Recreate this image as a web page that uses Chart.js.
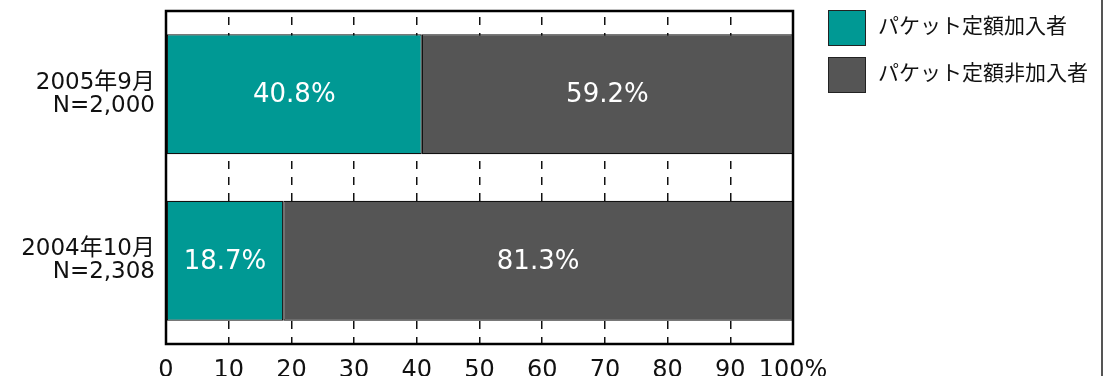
<!DOCTYPE html>
<html lang="ja">
<head>
<meta charset="utf-8">
<script src="https://cdn.jsdelivr.net/npm/chart.js@4.4.1/dist/chart.umd.min.js"></script>
<style>
    body { margin: 0; background: #fff; }
</style>
</head>
<body>
<canvas id="chart" width="1106" height="376"></canvas>
<script>
// data
var categories = [["2005年9月", "N=2,000"], ["2004年10月", "N=2,308"]];
var seriesNames = ["パケット定額加入者", "パケット定額非加入者"];
var subscribed = [40.8, 18.7];
var notSubscribed = [59.2, 81.3];
var xTickValues = [0, 10, 20, 30, 40, 50, 60, 70, 80, 90, 100];

var seriesColors = ["#009994", "#555555"];
var fontFamily = '"DejaVu Sans", "Noto Sans CJK JP", sans-serif';

// white percentage labels in the middle of each segment
var barLabels = {
    id: "barLabels",
    afterDatasetsDraw: function (chart) {
        var ctx = chart.ctx;
        ctx.save();
        ctx.fillStyle = "#fff";
        ctx.font = "26px " + fontFamily;
        ctx.textAlign = "center";
        ctx.textBaseline = "middle";
        chart.data.datasets.forEach(function (ds, i) {
            var meta = chart.getDatasetMeta(i);
            meta.data.forEach(function (bar, j) {
                var cx = (bar.x + bar.base) / 2;
                ctx.fillText(ds.data[j].toFixed(1) + "%", cx, bar.y + 1);
            });
        });
        ctx.restore();
    }
};

// frame round the plot, legend on the right, right rule
var frameAndLegend = {
    id: "frameAndLegend",
    afterDraw: function (chart) {
        var ctx = chart.ctx;
        var a = chart.chartArea;
        ctx.save();
        ctx.strokeStyle = "#000";
        ctx.lineWidth = 2.5;
        ctx.strokeRect(a.left, a.top, a.right - a.left, a.bottom - a.top);

        ctx.font = "21px " + fontFamily;
        ctx.textBaseline = "middle";
        ctx.textAlign = "left";
        chart.data.datasets.forEach(function (ds, i) {
            var y = 10 + i * 47;
            ctx.fillStyle = ds.backgroundColor;
            ctx.fillRect(828, y, 38, 36);
            ctx.strokeStyle = "#222";
            ctx.lineWidth = 1;
            ctx.strokeRect(828.5, y + 0.5, 37, 35);
            ctx.fillStyle = "#111";
            ctx.fillText(ds.label, 878, y + 18);
        });

        ctx.strokeStyle = "#555";
        ctx.lineWidth = 2;
        ctx.beginPath();
        ctx.moveTo(1102, 0);
        ctx.lineTo(1102, 376);
        ctx.stroke();
        ctx.restore();
    }
};

new Chart(document.getElementById("chart").getContext("2d"), {
    type: "bar",
    data: {
        labels: categories,
        datasets: [
            {
                label: seriesNames[0],
                data: subscribed,
                backgroundColor: seriesColors[0],
                borderColor: "#111",
                borderWidth: 1.2,
                borderSkipped: false,
                barPercentage: 0.72,
                categoryPercentage: 1
            },
            {
                label: seriesNames[1],
                data: notSubscribed,
                backgroundColor: seriesColors[1],
                borderColor: "#111",
                borderWidth: 1.2,
                borderSkipped: false,
                barPercentage: 0.72,
                categoryPercentage: 1
            }
        ]
    },
    options: {
        indexAxis: "y",
        responsive: false,
        animation: false,
        layout: { padding: { top: 11, right: 313, left: 0, bottom: 0 } },
        scales: {
            x: {
                stacked: true,
                min: 0,
                max: 100,
                afterBuildTicks: function (scale) {
                    scale.ticks = xTickValues.map(function (v) { return { value: v }; });
                },
                afterFit: function (scale) { scale.height = 32; },
                // in v4 the grid line dash comes from border.dash
                border: { display: false, dash: [8, 8], dashOffset: 10 },
                grid: {
                    color: "#111",
                    lineWidth: 1.5,
                    drawTicks: false
                },
                ticks: {
                    color: "#111",
                    padding: 12,
                    maxRotation: 0,
                    autoSkip: false,
                    font: { family: fontFamily, size: 24 },
                    callback: function (v) { return v === 100 ? "100%" : v; }
                }
            },
            y: {
                stacked: true,
                afterFit: function (scale) {
                    scale.width = 166;
                    scale.paddingTop = 0;
                    scale.paddingBottom = 0;
                },
                border: { display: false },
                grid: { display: false, drawTicks: false },
                ticks: {
                    color: "#111",
                    padding: 11,
                    font: { family: fontFamily, size: 23, lineHeight: 1.0 }
                }
            }
        },
        plugins: {
            legend: { display: false },
            tooltip: { enabled: false }
        }
    },
    plugins: [barLabels, frameAndLegend]
});
</script>
</body>
</html>
